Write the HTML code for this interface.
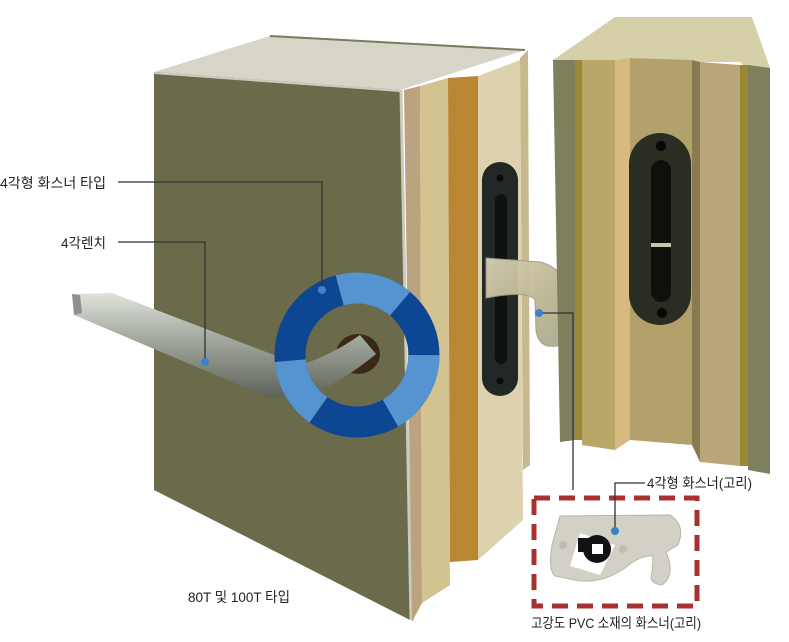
<!DOCTYPE html>
<html><head><meta charset="utf-8"><style>
html,body{margin:0;padding:0;background:#fff;}
svg{display:block}
text{font-family:"Liberation Sans","Noto Sans CJK KR",sans-serif;font-size:14px;fill:#222;}
</style></head><body>
<svg width="789" height="642" viewBox="0 0 789 642" xmlns="http://www.w3.org/2000/svg">
<defs>
<linearGradient id="bar" x1="0" y1="0" x2="0" y2="1">
<stop offset="0" stop-color="#dfe3dc"/><stop offset="0.4" stop-color="#a8ada3"/><stop offset="1" stop-color="#5e6259"/></linearGradient>
<linearGradient id="hook" x1="0" y1="0" x2="1" y2="1">
<stop offset="0" stop-color="#d8d2b6"/><stop offset="0.5" stop-color="#bfb893"/><stop offset="1" stop-color="#a8a890"/></linearGradient>
</defs>
<!-- LEFT PANEL -->
<polygon points="154,72 270,36 525,50 400,90" fill="#d6d5c8"/>
<line x1="270" y1="36" x2="525" y2="50" stroke="#7c7a5e" stroke-width="2"/>
<polygon points="154,72 400,90 410,620 154,490" fill="#6b6a4b"/>
<line x1="154" y1="73" x2="400" y2="91" stroke="#c9cbbd" stroke-width="2"/>
<line x1="401" y1="90" x2="411" y2="620" stroke="#c9cbbd" stroke-width="3"/>
<!-- side strips -->
<polygon points="404,90 420,86 422,603 412,622" fill="#bca37f"/>
<polygon points="420,86 448,78 450,585 422,603" fill="#d3c390"/>
<polygon points="448,78 478,76 478,560 450,562" fill="#b98634"/>
<polygon points="478,76 520,60 523,520 478,560" fill="#ddd2ad"/>
<polygon points="520,58 528,50 530,465 523,470" fill="#c8b88e"/>
<!-- plate on left panel -->
<rect x="482" y="162" width="36" height="234" rx="18" fill="#222825"/>
<rect x="495" y="194" width="12" height="170" rx="6" fill="#0e110f"/>
<circle cx="500" cy="178" r="3.5" fill="#0a0a0a"/>
<circle cx="500" cy="381" r="3.5" fill="#0a0a0a"/>
<!-- hook -->
<path d="M486,258 L540,262 Q565,268 574,300 L575,335 Q570,348 548,346 Q538,344 536,330 L535,300 Q528,290 486,298 Z" fill="url(#hook)" stroke="#9a9a8a" stroke-width="1" opacity="0.95"/>
<!-- RIGHT PANEL -->
<polygon points="553,60 615,17 752,17 770,68 748,70 740,62 700,62 692,60 630,58 615,60 580,60" fill="#d6d0a8"/>
<polygon points="553,60 575,60 575,440 560,442" fill="#7e7f5c"/>
<polygon points="575,60 582,60 582,440 575,440" fill="#9a8a3a"/>
<polygon points="582,60 615,60 615,450 582,445" fill="#b9a669"/>
<polygon points="615,60 630,58 630,440 615,450" fill="#d8b982"/>
<polygon points="630,58 692,60 692,445 630,440" fill="#b2a16b"/>
<polygon points="692,60 700,62 700,462 692,445" fill="#8a7a50"/>
<polygon points="700,62 740,65 740,466 700,462" fill="#b9a67a"/>
<polygon points="740,65 748,65 748,466 740,466" fill="#9a8834"/>
<polygon points="748,65 770,68 770,474 748,470" fill="#7e7f5c"/>
<rect x="629" y="133" width="62" height="192" rx="31" fill="#2a2d22"/>
<rect x="651" y="160" width="20" height="142" rx="10" fill="#0e100b"/>
<rect x="651" y="243" width="20" height="4" fill="#c8c4b0"/>
<circle cx="661" cy="146" r="5" fill="#080808"/>
<circle cx="662" cy="313" r="5" fill="#080808"/>
<!-- WRENCH -->
<ellipse cx="358" cy="354" rx="22" ry="20" fill="#3a2a15"/>
<path d="M72,294 L112,293 L300,365 Q330,356 360,335 L376,354 Q345,380 310,395 L270,398 L74,315 Z" fill="url(#bar)"/>
<polygon points="72,294 74,315 82,313 80,295" fill="#8d918a"/>
<!-- RING -->
<circle cx="357" cy="355" r="67" fill="none" stroke="#0d4794" stroke-width="31"/>
<circle cx="357" cy="355" r="67" fill="none" stroke="#5594d0" stroke-width="31" stroke-dasharray="64.3 58.5 70.2 76 58.5 93.5" transform="rotate(-105 357 355)"/>
<!-- INSET -->
<rect x="534" y="498" width="163" height="108" fill="none" stroke="#a9302f" stroke-width="5" stroke-dasharray="16 9"/>
<path d="M560,516 L670,515 Q686,525 678,545 L666,552 Q676,575 662,585 Q648,584 652,572 L653,556 Q640,555 625,568 Q600,585 575,580 L555,576 Q548,570 552,545 Z" fill="#d3d1c5" stroke="#b8b6aa"/>
<polygon points="570,566 580,533 615,545 600,575" fill="#ffffff"/>
<circle cx="597" cy="549" r="14" fill="#111"/>
<rect x="578" y="538" width="20" height="14" fill="#111"/>
<rect x="592" y="544" width="11" height="10" fill="#fff"/>
<circle cx="563" cy="545" r="4" fill="#c0beb2"/>
<circle cx="623" cy="549" r="4" fill="#c0beb2"/>
<!-- LEADERS -->
<g stroke="#333" stroke-width="1.3" fill="none">
<polyline points="118,182 322,182 322,290"/>
<polyline points="118,242 205,242 205,362"/>
<polyline points="539,313 573,313 573,490"/>
<polyline points="645,483 615,483 615,531"/>
</g>
<g fill="#3a82cc">
<circle cx="322" cy="290" r="4"/>
<circle cx="205" cy="362" r="4"/>
<circle cx="539" cy="313" r="4"/>
<circle cx="615" cy="531" r="4"/>
</g>
<text x="0" y="188" textLength="106" lengthAdjust="spacingAndGlyphs">4각형 화스너 타입</text>
<text x="61" y="248" textLength="45" lengthAdjust="spacingAndGlyphs">4각렌치</text>
<text x="188" y="602" textLength="102" lengthAdjust="spacingAndGlyphs">80T 및 100T 타입</text>
<text x="647" y="488" textLength="105" lengthAdjust="spacingAndGlyphs">4각형 화스너(고리)</text>
<text x="531" y="628" textLength="170" lengthAdjust="spacingAndGlyphs">고강도 PVC 소재의 화스너(고리)</text>
</svg>
</body></html>
